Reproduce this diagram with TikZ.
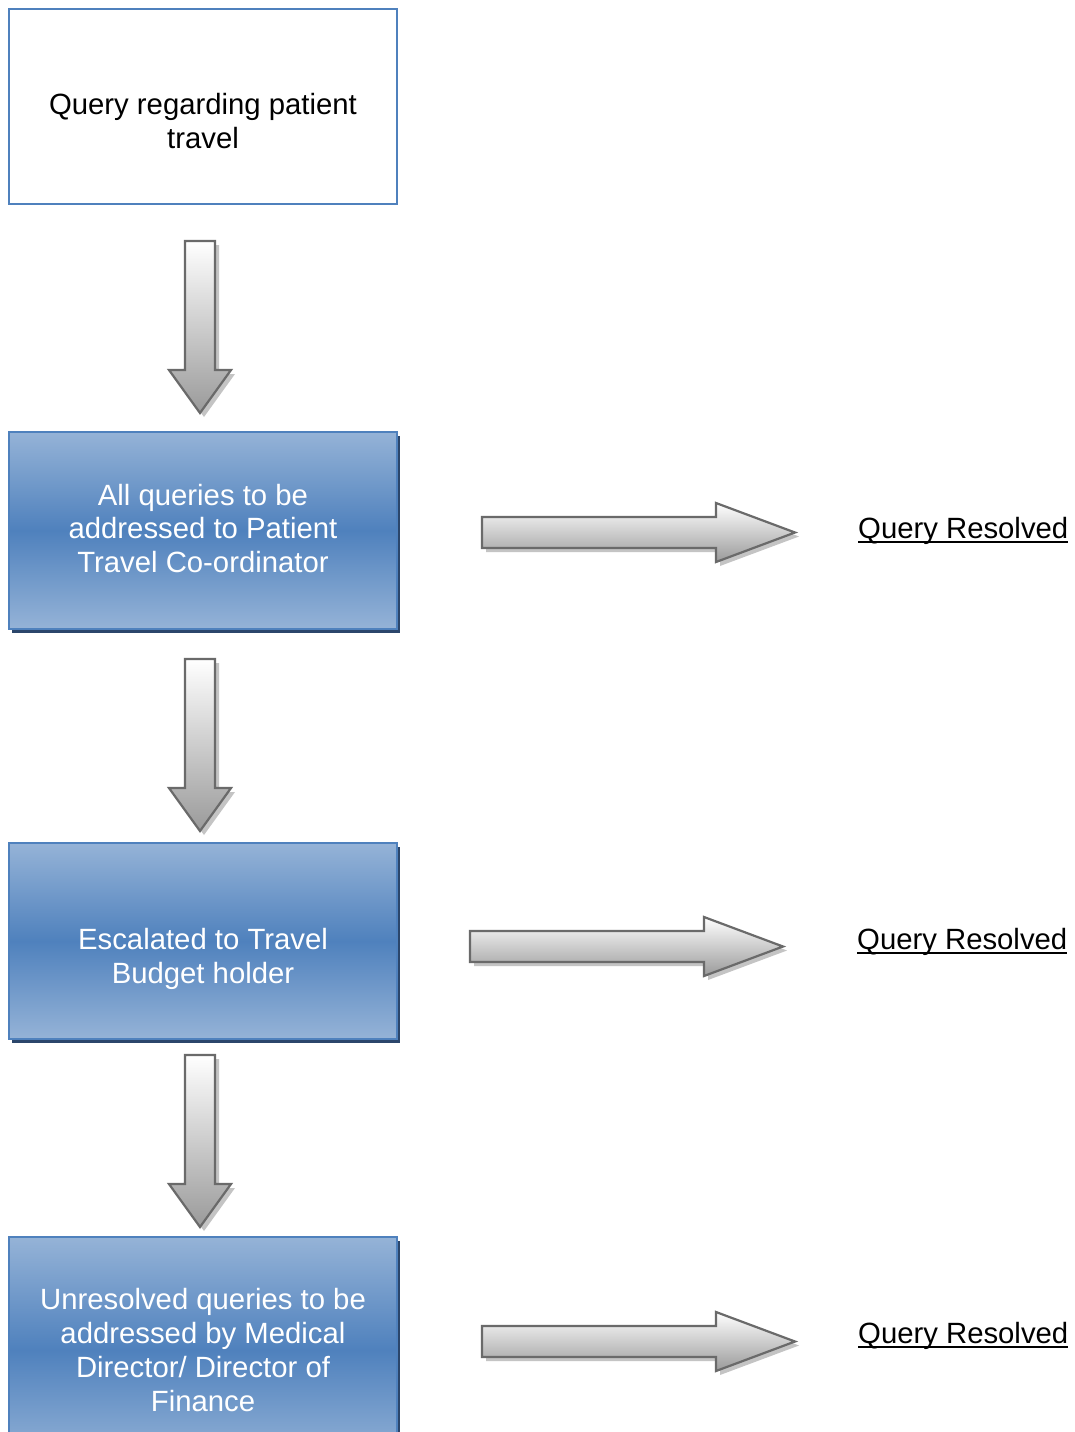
\documentclass[tikz,border=0pt]{standalone}
\usepackage{fontspec}
\setmainfont{Liberation Sans}
\usetikzlibrary{shadows}
\definecolor{boxblue}{HTML}{4F81BD}
\definecolor{boxlight}{HTML}{95B3D7}
\definecolor{boxshadow}{HTML}{2B466B}
\definecolor{arrline}{HTML}{6A6A6A}
\definecolor{arrdark}{HTML}{9A9A9A}
\definecolor{arrshade}{HTML}{C4C4C4}
\begin{document}
\begin{tikzpicture}[x=1pt,y=-1pt,
  plainbox/.style={draw=boxblue,line width=1.5pt,fill=white,minimum width=388pt,minimum height=195pt,inner sep=0pt},
  bluebox/.style={draw=boxblue,line width=1.5pt,top color=boxlight,bottom color=boxlight,middle color=boxblue,
    minimum width=388pt,inner sep=0pt,
    drop shadow={shadow xshift=3pt,shadow yshift=-4pt,fill=boxshadow,opacity=1}},
  txt/.style={font=\fontsize{29.3}{33.7}\selectfont,align=center,inner sep=0pt},
  qr/.style={font=\fontsize{29.3}{33.7}\selectfont,inner sep=0pt,anchor=base west},
  uline/.style={line width=2pt},
  arrstroke/.style={draw=arrline,line width=2.2pt,line join=miter},
  downarr/.pic={
    \fill[arrshade] (-11,4)--(19,4)--(19,133)--(35,133)--(4,176)--(-27,133)--(-11,133)--cycle;
    \shade[arrstroke,top color=white,bottom color=arrdark]
      (-15,0)--(15,0)--(15,129)--(31,129)--(0,172)--(-31,129)--(-15,129)--cycle;
  },
  rightarr/.pic={
    \fill[arrshade] (4,-11.5)--(238,-11.5)--(238,-25.5)--(317,4)--(238,33.5)--(238,19.5)--(4,19.5)--cycle;
    \shade[arrstroke,top color=white,bottom color=arrdark]
      (0,-15.5)--(234,-15.5)--(234,-29.5)--(313,0)--(234,29.5)--(234,15.5)--(0,15.5)--cycle;
  }
]
\useasboundingbox (0,0) rectangle (1075,1432);
\fill[white] (0,0) rectangle (1075,1432);

% boxes
\node[plainbox] (b1) at (203,106.5) {};
\node[txt] (t1) at (203,121) {Query regarding patient\\travel};

\node[bluebox,minimum height=197pt] (b2) at (203,530.5) {};
\node[txt,text=white] (t2) at (203,528.5) {All queries to be\\addressed to Patient\\Travel Co-ordinator};

\node[bluebox,minimum height=196pt] (b3) at (203,941) {};
\node[txt,text=white] (t3) at (203,959) {Escalated to Travel\\Budget holder};

\node[bluebox,minimum height=226pt] (b4) at (203,1350) {};
\node[txt,text=white] (t4) at (203,1350) {Unresolved queries to be\\addressed by Medical\\Director/ Director of\\Finance};

% down arrows
\pic at (200,241) {downarr};
\pic at (200,659) {downarr};
\pic at (200,1055) {downarr};

% right arrows
\pic at (482,532.5) {rightarr};
\pic at (470,946.5) {rightarr};
\pic at (482,1341.5) {rightarr};

% resolved labels
\node[qr] (q1) at (858,538) {Query Resolved};
\draw[uline] ([yshift=-4pt]q1.base west) -- ([yshift=-4pt]q1.base east);
\node[qr] (q2) at (857,949) {Query Resolved};
\draw[uline] ([yshift=-4pt]q2.base west) -- ([yshift=-4pt]q2.base east);
\node[qr] (q3) at (858,1343) {Query Resolved};
\draw[uline] ([yshift=-4pt]q3.base west) -- ([yshift=-4pt]q3.base east);
\end{tikzpicture}
\end{document}
